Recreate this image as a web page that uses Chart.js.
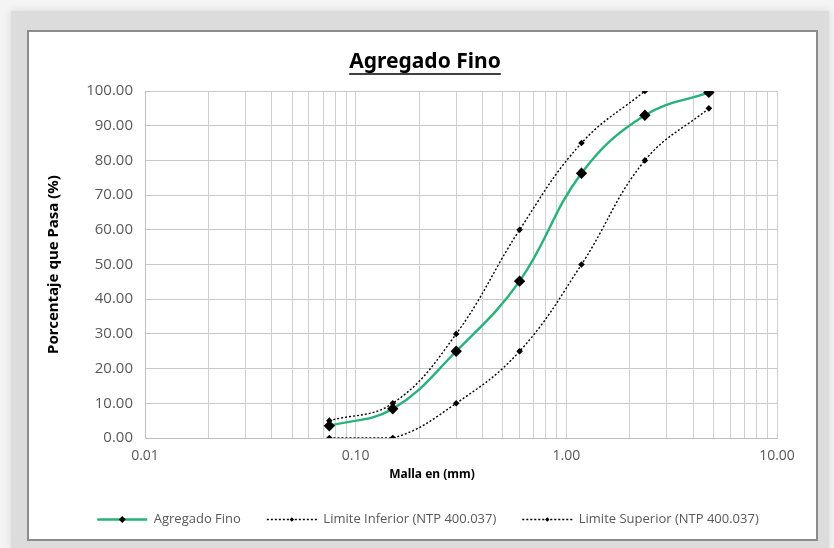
<!DOCTYPE html>
<html>
<head>
<meta charset="utf-8">
<script src="https://cdn.jsdelivr.net/npm/chart.js@4"></script>
<style>
  html, body { margin: 0; padding: 0; }
  body { width: 834px; height: 548px; background: #f4f4f4; position: relative; overflow: hidden; }
  #frame { position: absolute; left: 11px; top: 11px; width: 818px; height: 537px; background: #dcdcdc; box-shadow: 0 0 8px rgba(0,0,0,0.12); }
  #box { position: absolute; left: 27px; top: 30px; width: 787px; height: 507px; background: #fff; border: 2px solid #8c8c8c; }
  #chart { display: block; }
</style>
</head>
<body>
<div id="frame"></div>
<div id="box"><canvas id="chart" width="787" height="507"></canvas></div>
<script>
// Tamiz (mm) y porcentajes que pasa
const mallas = [0.075, 0.15, 0.3, 0.6, 1.18, 2.36, 4.75];
const agregadoFino = [3.5, 8.4, 25.0, 45.2, 76.3, 93.0, 99.6];
const limiteInferior = [0, 0, 10, 25, 50, 80, 95];
const limiteSuperior = [5, 10, 30, 60, 85, 100, null];
const titulo = 'Agregado Fino';
const tituloX = 'Malla en (mm)';

// lineas de la grilla logaritmica
const xGrid = [];
[0.01, 0.1, 1].forEach(d => {
    for (let i = 1; i <= 9; i++) xGrid.push(+(d * i).toFixed(3));
});
xGrid.push(10);
const xLabels = [0.01, 0.1, 1, 10];

const toPoints = vals => mallas.map((m, i) => ({ x: m, y: vals[i] }));

// leyenda estilo Excel: linea + marcador
const legendMarkers = {
    id: 'legendMarkers',
    afterDraw(chart) {
        const legend = chart.legend;
        if (!legend || !legend.legendHitBoxes) return;
        const ctx = chart.ctx;
        const bw = legend.options.labels.boxWidth;
        legend.legendHitBoxes.forEach((box, i) => {
            const ds = chart.data.datasets[i];
            const cy = box.top + box.height / 2;
            const cx = box.left + bw / 2;
            ctx.save();
            ctx.strokeStyle = ds.borderColor;
            ctx.lineWidth = ds.borderWidth;
            ctx.setLineDash(ds.borderDash || []);
            ctx.beginPath();
            ctx.moveTo(box.left, cy);
            ctx.lineTo(box.left + bw, cy);
            ctx.stroke();
            const r = i === 0 ? 3.5 : 2.2;
            ctx.setLineDash([]);
            ctx.fillStyle = '#000';
            ctx.beginPath();
            ctx.moveTo(cx, cy - r);
            ctx.lineTo(cx + r, cy);
            ctx.lineTo(cx, cy + r);
            ctx.lineTo(cx - r, cy);
            ctx.closePath();
            ctx.fill();
            ctx.restore();
        });
    }
};

// titulos centrados como en Excel (sobre todo el grafico)
const chartTitles = {
    id: 'chartTitles',
    afterDraw(chart) {
        const ctx = chart.ctx;
        ctx.save();
        ctx.fillStyle = '#000';
        ctx.textAlign = 'center';
        ctx.textBaseline = 'middle';
        ctx.font = 'bold 21px "Noto Sans"';
        ctx.fillText(titulo, 396, 30);
        const w = ctx.measureText(titulo).width;
        ctx.strokeStyle = '#000';
        ctx.lineWidth = 1.4;
        ctx.beginPath();
        ctx.moveTo(396 - w / 2, 42);
        ctx.lineTo(396 + w / 2, 42);
        ctx.stroke();
        ctx.font = 'bold 12px "Noto Sans"';
        ctx.fillText(tituloX, 403, 443);
        ctx.restore();
    }
};

const ctx = document.getElementById('chart').getContext('2d');
new Chart(ctx, {
    type: 'line',
    data: {
        datasets: [{
            label: 'Agregado Fino',
            data: toPoints(agregadoFino),
            borderColor: 'rgb(40,178,122)',
            backgroundColor: 'rgb(40,178,122)',
            borderWidth: 2.4,
            tension: 0.4,
            pointStyle: 'rectRot',
            pointRadius: 4,
            pointBackgroundColor: '#000',
            pointBorderColor: '#000'
        }, {
            label: 'Limite Inferior (NTP 400.037)',
            data: toPoints(limiteInferior),
            borderColor: '#000',
            backgroundColor: '#fff',
            borderWidth: 1.4,
            borderDash: [2, 2],
            tension: 0.4,
            pointStyle: 'rectRot',
            pointRadius: 2.3,
            pointBackgroundColor: '#000',
            pointBorderColor: '#000'
        }, {
            label: 'Limite Superior (NTP 400.037)',
            data: toPoints(limiteSuperior),
            borderColor: '#000',
            backgroundColor: '#fff',
            borderWidth: 1.4,
            borderDash: [2, 2],
            tension: 0.4,
            spanGaps: false,
            pointStyle: 'rectRot',
            pointRadius: 2.3,
            pointBackgroundColor: '#000',
            pointBorderColor: '#000'
        }]
    },
    options: {
        responsive: false,
        animation: false,
        layout: { padding: { left: 16, right: 5, top: 59, bottom: 3 } },
        plugins: {
            title: { display: false },
            legend: {
                position: 'bottom',
                labels: {
                    boxWidth: 50,
                    boxHeight: 8,
                    padding: 26,
                    color: '#595959',
                    font: { family: 'Open Sans', size: 13 },
                    generateLabels: chart => chart.data.datasets.map((ds, i) => ({
                        text: ds.label,
                        fillStyle: 'rgba(0,0,0,0)',
                        strokeStyle: 'rgba(0,0,0,0)',
                        lineWidth: 0,
                        fontColor: '#595959',
                        datasetIndex: i
                    }))
                }
            },
            tooltip: { enabled: false }
        },
        scales: {
            x: {
                type: 'logarithmic',
                min: 0.01,
                max: 10,
                afterBuildTicks: scale => {
                    scale.ticks = xGrid.map(v => ({ value: v }));
                },
                afterFit: scale => { scale.height = 49; },
                ticks: {
                    autoSkip: false,
                    maxRotation: 0,
                    padding: 10,
                    color: '#595959',
                    font: { family: 'Open Sans', size: 14 },
                    callback: v => xLabels.includes(v) ? v.toFixed(2) : ''
                },
                grid: { color: '#d0d0d0', drawTicks: false },
                border: { color: '#bfbfbf' }
            },
            y: {
                min: 0,
                max: 100,
                afterFit: scale => { scale.width = 100; },
                ticks: {
                    stepSize: 10,
                    padding: 12,
                    color: '#595959',
                    font: { family: 'Open Sans', size: 15 },
                    callback: v => v.toFixed(2)
                },
                grid: { color: '#c8c8c8', drawTicks: false },
                border: { color: '#bfbfbf' },
                title: {
                    display: true,
                    text: 'Porcentaje que Pasa (%)',
                    color: '#000',
                    font: { family: 'Noto Sans', size: 15, weight: 'bold' },
                    padding: { top: 0, bottom: 4 }
                }
            },
            // eje vacio a la derecha: solo reserva el margen del area de trazado
            margen: {
                type: 'linear',
                position: 'right',
                min: 0,
                max: 100,
                afterFit: scale => { scale.width = 34; },
                ticks: { display: false },
                grid: { display: false },
                border: { display: false }
            }
        }
    },
    plugins: [legendMarkers, chartTitles]
});
</script>
</body>
</html>
